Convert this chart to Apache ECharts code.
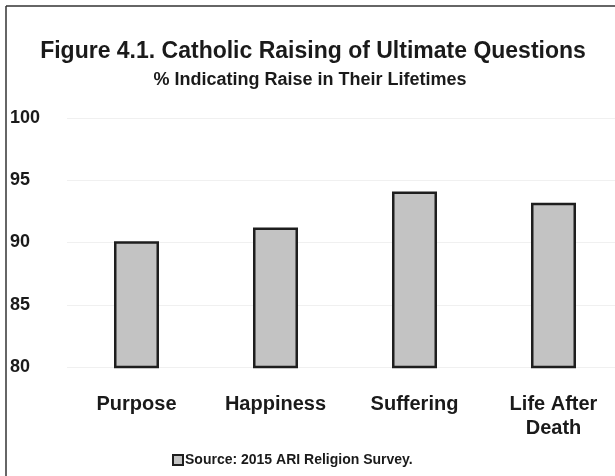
<!DOCTYPE html>
<html>
<head>
<meta charset="utf-8">
<script src="https://cdn.jsdelivr.net/npm/echarts@6/dist/echarts.min.js"></script>
<style>
  html, body { margin: 0; padding: 0; background: #ffffff; overflow: hidden; width: 615px; height: 476px; }
  /* the plot frame runs past the right edge of the page, so the canvas is wider than the window */
  #chart { width: 640px; height: 476px; }
</style>
</head>
<body>
<div id="chart"></div>
<script>
// Share of Catholics who have raised each question in their lifetimes
const categories = ['Purpose', 'Happiness', 'Suffering', 'Life After\nDeath'];
const percentRaised = [90.1, 91.2, 94.1, 93.2];
const seriesName = 'Source: 2015 ARI Religion Survey.';
const yTicks = { min: 80, max: 100, step: 5 };

const font = '"Liberation Sans", Arial, sans-serif';

const chart = echarts.init(document.getElementById('chart'), null, { renderer: 'canvas' });

chart.setOption({
  backgroundColor: '#ffffff',
  animation: false,
  title: [
    {
      text: 'Figure 4.1. Catholic Raising of Ultimate Questions',
      left: 308, top: 35, textAlign: 'center',
      textStyle: { fontFamily: font, fontWeight: 'bold', fontSize: 23, color: '#1a1a1a' }
    },
    {
      text: '% Indicating Raise in Their Lifetimes',
      left: 305, top: 66, textAlign: 'center',
      textStyle: { fontFamily: font, fontWeight: 'bold', fontSize: 18, color: '#1a1a1a' }
    }
  ],
  legend: {
    data: [seriesName],
    left: 167,
    top: 448,
    itemWidth: 10,
    itemHeight: 10,
    itemGap: 4,
    icon: 'rect',
    textStyle: { fontFamily: font, fontWeight: 'bold', fontSize: 14, color: '#1a1a1a', padding: [0, 0, 0, -3] }
  },
  grid: { left: 67, top: 118, width: 556, height: 249 },
  xAxis: {
    type: 'category',
    data: categories,
    axisLine: { show: false },
    axisTick: { show: false },
    axisLabel: {
      margin: 25, lineHeight: 24,
      fontFamily: font, fontWeight: 'bold', fontSize: 20, color: '#1a1a1a'
    }
  },
  yAxis: {
    type: 'value',
    min: yTicks.min, max: yTicks.max, interval: yTicks.step,
    axisLine: { show: false },
    axisTick: { show: false },
    splitLine: { lineStyle: { color: '#f0f0f0', width: 1 } },
    axisLabel: {
      align: 'left', margin: 57,
      fontFamily: font, fontWeight: 'bold', fontSize: 18, color: '#1a1a1a'
    }
  },
  series: [{
    name: seriesName,
    type: 'bar',
    data: percentRaised,
    barWidth: 45,
    itemStyle: { color: '#c3c3c3', borderColor: '#1e1e1e', borderWidth: 2.5 }
  }],
  graphic: [
    { type: 'line', shape: { x1: 6, y1: 6, x2: 640, y2: 6 }, style: { stroke: '#333', lineWidth: 1.5 } },
    { type: 'line', shape: { x1: 6, y1: 6, x2: 6, y2: 476 }, style: { stroke: '#333', lineWidth: 1.5 } }
  ]
});
</script>
</body>
</html>
